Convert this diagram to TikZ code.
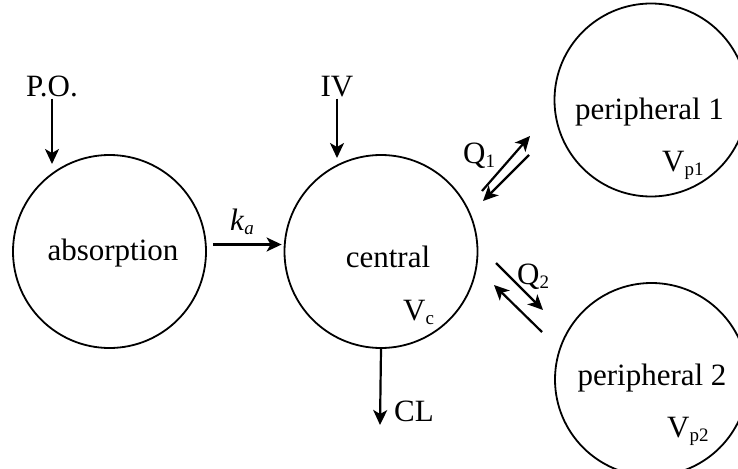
\documentclass[tikz,border=0pt]{standalone}
\usepackage{fontspec}
\setmainfont{Liberation Serif}
\usepackage{tikz}
\usetikzlibrary{arrows.meta,positioning,calc}
\newcommand{\lowsub}[1]{\raisebox{-4pt}{\fontsize{19}{22}\selectfont #1}}

\begin{document}
\begin{tikzpicture}[x=1pt,y=-1pt,
		comp/.style={draw, circle, line width=1.8pt, minimum size=193pt, inner sep=0pt},
		lbl/.style={inner sep=1pt, font=\fontsize{31}{37}\selectfont},
		flow/.style={-{Stealth[length=15pt,width=14pt,inset=4pt]}, line width=2.2pt}]
		\useasboundingbox (0,0) rectangle (738,468);
		\clip (0,0) rectangle (738,468);

		% compartments
		\node[comp] (absorption) at (109.5,251.5) {};
		\node[comp] (central) at (381,251.5) {};
		\node[comp] (periph1) at (651,100) {};
		\node[comp] (periph2) at (651.5,379.5) {};

		\node[lbl, anchor=base] (abstxt) at (113,260) {absorption};
		\node[lbl, anchor=base] (centtxt) at (388,267) {central};
		\node[lbl, anchor=base] (p1txt) at (649.5,119) {peripheral 1};
		\node[lbl, anchor=base] (p2txt) at (652,385) {peripheral 2};
		\node[lbl, anchor=base west] (vc) at (402,320) {V\lowsub{c}};
		\node[lbl, anchor=base west] (vp1) at (661,171) {V\lowsub{p1}};
		\node[lbl, anchor=base west] (vp2) at (666,437) {V\lowsub{p2}};

		% dosing and elimination
		\node[lbl, anchor=base] (po) at (52,97) {P.O.};
		\node[lbl, anchor=base] (iv) at (337,97) {IV};
		\coordinate (poend) at (52,164);
		\coordinate (ivend) at (337,158);
		\coordinate (clend) at (380,425);
		\draw[flow] (po.south) -- (poend);
		\draw[flow] (iv.south) -- (ivend);
		\draw[flow] (central.south) -- (clend);
		\node[lbl, anchor=base west] (cl) at (393,421) {CL};

		\draw[flow, shorten <=6pt, shorten >=2pt] ([yshift=7pt]absorption.east) -- ([yshift=7pt]central.west);
		\node[lbl, anchor=base west] (ka) at (229,230) {\textit{k}\lowsub{\textit{a}}};

		% exchange with peripheral compartments
		\coordinate (q1a) at (482,191);
		\coordinate (q1b) at (530,136);
		\coordinate (q1c) at (529,155);
		\coordinate (q1d) at (483,201);
		\draw[flow] (q1a) -- (q1b);
		\draw[flow] (q1c) -- (q1d);
		\node[lbl, anchor=base west] (q1) at (462,163) {Q\lowsub{1}};

		\coordinate (q2a) at (496,263);
		\coordinate (q2b) at (543,310);
		\coordinate (q2c) at (542,332);
		\coordinate (q2d) at (494,285);
		\draw[flow] (q2a) -- (q2b);
		\draw[flow] (q2c) -- (q2d);
		\node[lbl, anchor=base west] (q2) at (516,284) {Q\lowsub{2}};
	\end{tikzpicture}
\end{document}
